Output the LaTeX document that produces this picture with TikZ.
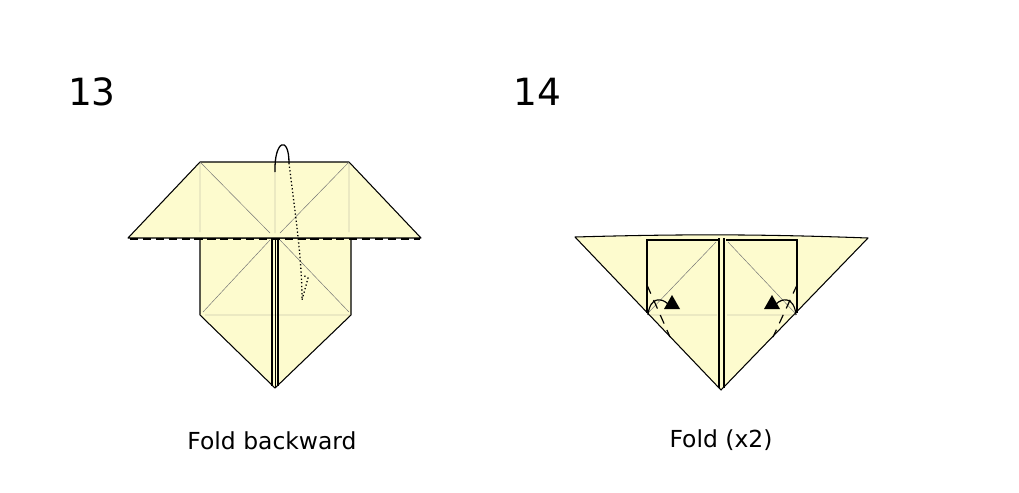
\documentclass[tikz,border=0pt]{standalone}
\usepackage{fontspec}
\setmainfont{DejaVu Sans}
\usetikzlibrary{calc,positioning}
\definecolor{paper}{RGB}{253,251,206}
\tikzset{
  paperface/.style={fill=paper,draw=black,line width=0.9pt,line join=round},
  crease/.style={draw=black!55,line width=0.4pt},
  valley/.style={draw=black,line width=1.2pt,dash pattern=on 7pt off 4pt},
  stepnum/.style={font=\fontsize{32}{36}\selectfont},
  caption/.style={font=\fontsize{20}{24}\selectfont}
}
\begin{document}
\begin{tikzpicture}[x=0.03cm,y=-0.03cm]
        \useasboundingbox (0,0) rectangle (1019,492);
        % Step 13
        \node[stepnum] (n13) at (92,92) {13};
        \draw[paperface] (200,238) -- (351,238) -- (351,315) -- (275,388) -- (200,315) -- cycle;
        \draw[crease] (270,240) -- (203,312) (280,240) -- (349,312) (205,315) -- (350,315);
        \draw[paperface] (128,238) -- (200,162) -- (349,162) -- (421,238) -- cycle;
        \draw[crease] (200,162) -- (200,232) (349,162) -- (349,232) (275,162) -- (275,233)
          (200,162) -- (270,233) (349,162) -- (280,233);
        \draw[valley] (130,239) -- (420,239);
        \draw[line width=1.2pt] (272,238) -- (272,386) (278,238) -- (278,386);
        \draw[line width=0.5pt] (275,240) -- (275,388);
        \draw[line width=1.1pt] (275,172) .. controls (274,140) and (289,135) .. (289,163);
        \draw[line width=1.1pt,dotted] (289,163) .. controls (296,220) and (302,260) .. (302,300)
          -- (308,278) -- (303,275);
        \node[caption] (c13) at (272,441) {Fold backward};
        % Step 14
        \node[stepnum] (n14) at (537,92) {14};
        \draw[paperface] (575,237) .. controls (680,234) and (760,234) .. (868,238) -- (721,390) -- cycle;
        \draw[line width=0.9pt] (647,313) -- (647,240) -- (718,240) (797,313) -- (797,240) -- (726,240);
        \draw[crease] (648,313) -- (716,242) (728,242) -- (795,313)
          (650,315) -- (717,315) (727,315) -- (795,315);
        \draw[line width=1.2pt] (719,238) -- (719,388) (724,238) -- (724,388);
        \draw[line width=1pt,dash pattern=on 8pt off 6pt] (647,285) -- (670,337) (797,285) -- (773,337);
        \draw[line width=1pt] (648,315) .. controls (650,296) and (662,298) .. (668,304)
          (796,315) .. controls (794,296) and (782,298) .. (776,304);
        \fill (664,309) -- (680,309) -- (672,295) -- cycle;
        \fill (764,309) -- (780,309) -- (772,295) -- cycle;
        \node[caption] (c14) at (721,440) {Fold (x2)};
\end{tikzpicture}
\end{document}
